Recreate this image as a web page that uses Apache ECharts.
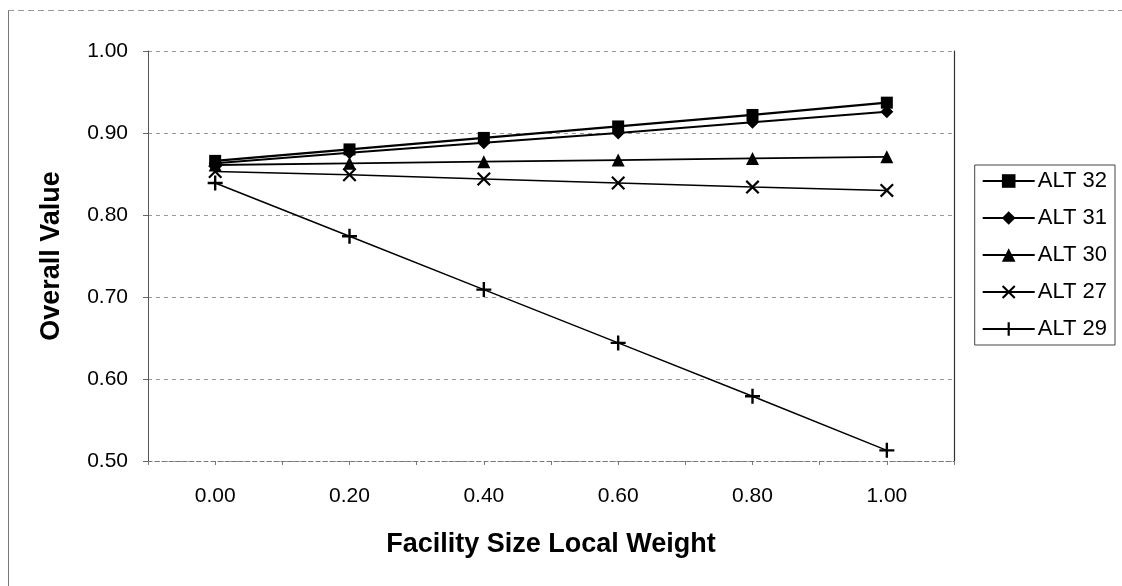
<!DOCTYPE html>
<html>
<head>
<meta charset="utf-8">
<script src="https://cdn.jsdelivr.net/npm/echarts@6/dist/echarts.min.js"></script>
<style>html,body{margin:0;padding:0;background:#fff;}#c{width:1122px;height:586px;}</style>
</head>
<body>
<div id="c"></div>
<script>
const weights = [0.0, 0.2, 0.4, 0.6, 0.8, 1.0];
const seriesNames = ['ALT 32', 'ALT 31', 'ALT 30', 'ALT 27', 'ALT 29'];
const alt32 = [0.866, 0.880, 0.894, 0.908, 0.922, 0.937];
const alt31 = [0.863, 0.876, 0.888, 0.900, 0.913, 0.926];
const alt30 = [0.861, 0.863, 0.865, 0.867, 0.869, 0.871];
const alt27 = [0.853, 0.849, 0.844, 0.839, 0.834, 0.830];
const alt29 = [0.839, 0.774, 0.709, 0.644, 0.579, 0.513];
const yTicks = [0.5, 0.6, 0.7, 0.8, 0.9, 1.0];

const values = [alt32, alt31, alt30, alt27, alt29];
const plusPath = 'path://M4.2,0H5.8V4.2H10V5.8H5.8V10H4.2V5.8H0V4.2H4.2Z';
const crossPath = 'path://M1.1,0L5,3.9L8.9,0L10,1.1L6.1,5L10,8.9L8.9,10L5,6.1L1.1,10L0,8.9L3.9,5L0,1.1Z';
const symbols = ['rect', 'diamond', 'triangle', crossPath, plusPath];
const sizes = [12, 13, 13, 14, 15];
const widths = [2.2, 2, 1.8, 1.5, 1.5];

const chart = echarts.init(document.getElementById('c'));
const font = 'Liberation Sans, Arial, sans-serif';
chart.setOption({
  animation: false,
  backgroundColor: '#fff',
  textStyle: { fontFamily: font, color: '#000' },
  grid: { left: 148, right: 168, top: 51, bottom: 125 },
  legend: {
    orient: 'vertical', right: 7, top: 165,
    itemWidth: 52, itemHeight: 17, itemGap: 15,
    padding: [5, 8, 5, 7],
    borderColor: '#444', borderWidth: 1,
    textStyle: { fontSize: 22, color: '#000', fontFamily: font, padding: [0, 0, 0, -2] },
    data: seriesNames
  },
  xAxis: {
    type: 'value', min: -0.1, max: 1.1, interval: 0.1,
    name: 'Facility Size Local Weight', nameLocation: 'middle', nameGap: 70,
    nameTextStyle: { fontSize: 27, fontWeight: 'bold', color: '#000', fontFamily: font },
    axisLine: { show: true, onZero: false, lineStyle: { color: '#777', width: 1, type: [4, 3] } },
    axisTick: { show: true, length: 4, lineStyle: { color: '#777' } },
    splitLine: { show: false },
    axisLabel: {
      fontSize: 21, color: '#000', margin: 25, fontFamily: font,
      formatter: function (v) {
        const k = Math.round(v * 10);
        if (k < 0 || k > 10 || k % 2 !== 0) return '';
        return weights[k / 2].toFixed(2);
      }
    }
  },
  yAxis: [{
    type: 'value', min: 0.5, max: 1.0, interval: 0.1,
    name: 'Overall Value', nameLocation: 'middle', nameGap: 83,
    nameTextStyle: { fontSize: 27, fontWeight: 'bold', color: '#000', fontFamily: font },
    axisLine: { show: true, onZero: false, lineStyle: { color: '#555', width: 1 } },
    axisTick: { show: true, length: 5, lineStyle: { color: '#666' } },
    splitLine: { show: true, lineStyle: { color: '#999', width: 1, type: [4, 4] } },
    axisLabel: {
      fontSize: 21, color: '#000', margin: 20, fontFamily: font,
      formatter: function (v) {
        const t = yTicks.find(function (y) { return Math.abs(y - v) < 1e-6; });
        return t === undefined ? '' : t.toFixed(2);
      }
    }
  }, {
    type: 'value', min: 0.5, max: 1.0, interval: 0.1, position: 'right',
    axisLine: { show: true, onZero: false, lineStyle: { color: '#333', width: 1.2 } },
    axisTick: { show: false }, axisLabel: { show: false }, splitLine: { show: false }
  }],
  series: values.map(function (vals, i) {
    return {
      name: seriesNames[i], type: 'line',
      data: vals.map(function (v, j) { return [weights[j], v]; }),
      symbol: symbols[i], symbolSize: sizes[i],
      lineStyle: { color: '#000', width: widths[i] },
      itemStyle: { color: '#000', borderColor: '#000', borderWidth: 0 },
      z: 10 - i
    };
  }),
  graphic: [
    { type: 'line', shape: { x1: 8.5, y1: 10, x2: 8.5, y2: 586 }, style: { stroke: '#777', lineWidth: 1 } },
    { type: 'line', shape: { x1: 8, y1: 10.5, x2: 1122, y2: 10.5 }, style: { stroke: '#999', lineWidth: 1, lineDash: [6, 4] } }
  ]
});
</script>
</body>
</html>
